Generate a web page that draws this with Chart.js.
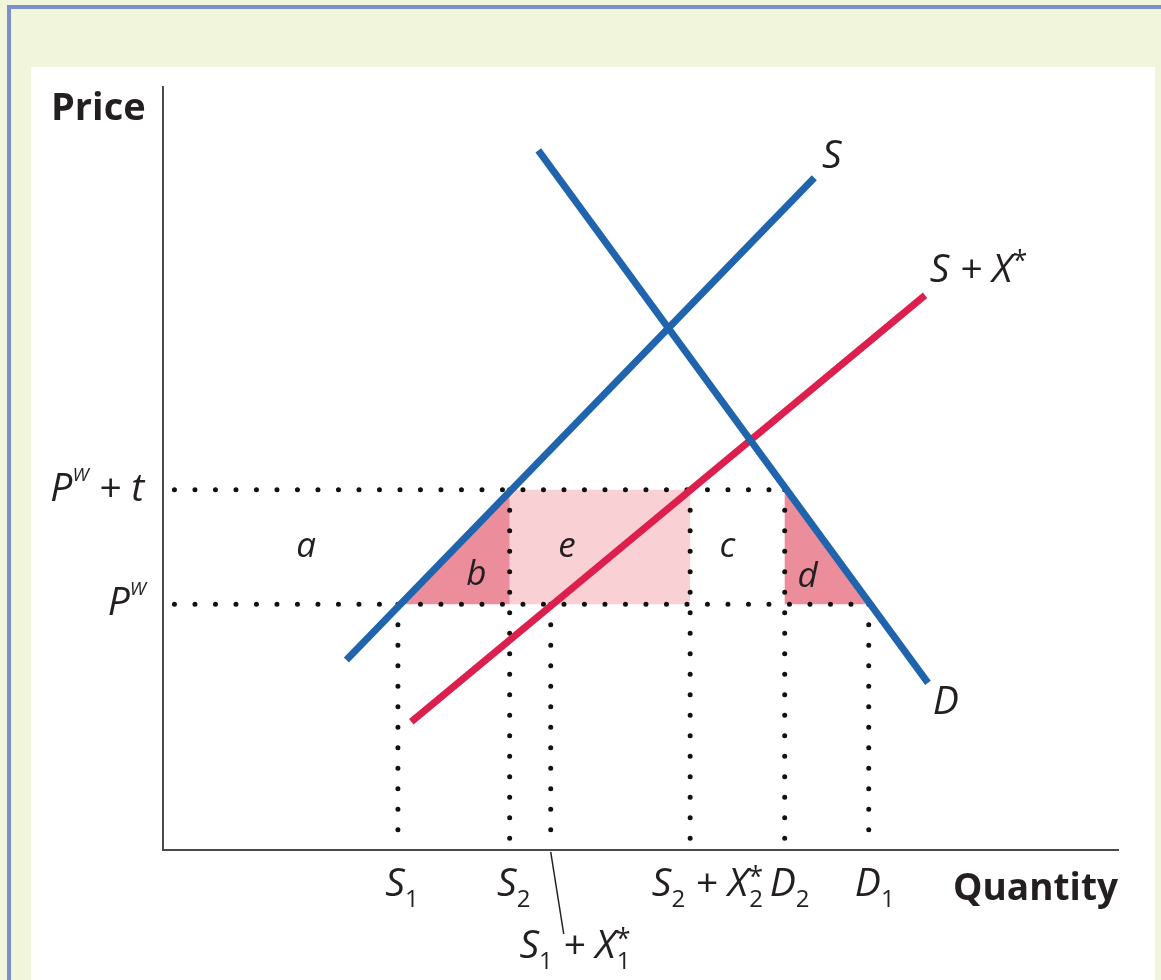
<!DOCTYPE html>
<html>
<head>
<meta charset="utf-8">
<script src="https://cdn.jsdelivr.net/npm/chart.js@4.4.1/dist/chart.umd.min.js"></script>
<style>
html, body { margin: 0; padding: 0; }
body { width: 1161px; height: 980px; background: #f0f5dc; position: relative; overflow: hidden; }
#frame { position: absolute; left: 7px; top: 5px; width: 1170px; height: 1000px; border: 4px solid #7a8fcb; box-sizing: border-box; }
#panel { position: absolute; left: 31px; top: 67px; width: 1124px; height: 930px; background: #fff; }
#chart { position: absolute; left: 0; top: 0; }
</style>
</head>
<body>
<div id="frame"></div>
<div id="panel"></div>
<canvas id="chart" width="1161" height="980"></canvas>
<script>
// 가격 수준: P^W, P^W + t
const priceLevels = [32.2, 47.2];
// 수량: S1, S2, S1+X1*, S2+X2*, D2, D1
const quantityLevels = [24.6, 36.3, 40.6, 55.2, 65.1, 73.9];

// 곡선 끝점
const supplyX = [19.2, 68.2];
const supplyY = [24.9, 88.1];
const demandX = [39.3, 80.1];
const demandY = [91.7, 21.9];
const exportSupplyX = [26.0, 79.8];
const exportSupplyY = [16.8, 72.7];

const BLUE = '#1f64ad';
const RED = '#dc1f4c';
const PINK_DARK = '#ec8d9c';
const PINK_LIGHT = '#f9d1d5';
const FONT = '"Open Sans", "Noto Sans", sans-serif';

const [pw, pwt] = priceLevels;
const [s1, s2, s1x1, s2x2, d2, d1] = quantityLevels;

function pts(xs, ys) {
    return xs.map((x, i) => ({ x: x, y: ys[i] }));
}

function curve(xs, ys, color) {
    return {
        data: pts(xs, ys), showLine: true, pointRadius: 0,
        borderColor: color, borderWidth: 7, fill: false, order: 0
    };
}

function area(poly, color) {
    return {
        data: poly, showLine: true, pointRadius: 0, borderWidth: 0,
        borderColor: 'rgba(0,0,0,0)', backgroundColor: color, fill: 'shape', order: 2
    };
}

function dotted(poly) {
    return {
        data: poly, showLine: true, pointRadius: 0, borderColor: '#111',
        borderWidth: 5, borderDash: [0, 20.5], borderCapStyle: 'round', fill: false, order: 1
    };
}

const datasets = [
    curve(supplyX, supplyY, BLUE),
    curve(demandX, demandY, BLUE),
    curve(exportSupplyX, exportSupplyY, RED),
    area([{ x: s1, y: pw }, { x: s2, y: pwt }, { x: s2, y: pw }, { x: s1, y: pw }], PINK_DARK),
    area([{ x: s2, y: pw }, { x: s2, y: pwt }, { x: s2x2, y: pwt }, { x: s2x2, y: pw }, { x: s2, y: pw }], PINK_LIGHT),
    area([{ x: d2, y: pwt }, { x: d1, y: pw }, { x: d2, y: pw }, { x: d2, y: pwt }], PINK_DARK),
    dotted([{ x: 1.2, y: pwt }, { x: d2, y: pwt }]),
    dotted([{ x: 1.2, y: pw }, { x: d1, y: pw }])
];
// 세로 점선: 각 수량에서 해당 가격까지
[[s1, pw], [s2, pwt], [s1x1, pw], [s2x2, pwt], [d2, pwt], [d1, pw]].forEach(([q, p]) => {
    datasets.push(dotted([{ x: q, y: p }, { x: q, y: 0.6 }]));
});

// 텍스트 조각: n=보통, sub=아래첨자, sup=위첨자, ss=위/아래 겹침
function fontFor(kind) {
    if (kind === 'sub') return '24px ' + FONT;
    if (kind === 'sup') return 'italic 19px ' + FONT;
    if (kind === 'star') return '27px ' + FONT;
    return 'italic 39px ' + FONT;
}

function partWidth(ctx, p) {
    if (p[1] === 'ss') {
        ctx.font = '25px ' + FONT;
        return Math.max(ctx.measureText(p[0][0]).width, ctx.measureText(p[0][1]).width);
    }
    ctx.font = fontFor(p[1]);
    return ctx.measureText(p[0]).width;
}

function drawRich(ctx, parts, x, y, align) {
    const total = parts.reduce((w, p) => w + partWidth(ctx, p), 0);
    let cx = align === 'center' ? x - total / 2 : align === 'right' ? x - total : x;
    ctx.textAlign = 'left';
    ctx.textBaseline = 'alphabetic';
    parts.forEach(p => {
        const w = partWidth(ctx, p);
        if (p[1] === 'ss') {
            ctx.font = '27px ' + FONT;
            ctx.fillText(p[0][0], cx, y - 10);
            ctx.font = '24px ' + FONT;
            ctx.fillText(p[0][1], cx + 1, y + 11);
        } else {
            ctx.font = fontFor(p[1]);
            const dy = p[1] === 'sub' ? 11 : p[1] === 'sup' ? -20 : p[1] === 'star' ? -12 : 0;
            ctx.fillText(p[0], cx, y + dy);
        }
        cx += w;
    });
}

const axisLabels = [
    { q: s1, dx: 4, parts: [['S', 'n'], ['1', 'sub']] },
    { q: s2, dx: 4, parts: [['S', 'n'], ['2', 'sub']] },
    { q: s2x2, dx: 17, parts: [['S', 'n'], ['2', 'sub'], [' + X', 'n'], [['*', '2'], 'ss']] },
    { q: d2, dx: 5, parts: [['D', 'n'], ['2', 'sub']] },
    { q: d1, dx: 6, parts: [['D', 'n'], ['1', 'sub']] }
];

const areaLabels = [
    { t: 'a', x: 15.0, y: 38.4 },
    { t: 'b', x: 32.8, y: 34.7 },
    { t: 'e', x: 42.3, y: 38.4 },
    { t: 'c', x: 59.1, y: 38.4 },
    { t: 'd', x: 67.5, y: 34.5 }
];

const curveLabels = [
    { x: 69.0, y: 89.4, parts: [['S', 'n']] },
    { x: 80.3, y: 74.4, parts: [['S + X', 'n'], ['*', 'star']] },
    { x: 80.6, y: 17.8, parts: [['D', 'n']] }
];

const labelPlugin = {
    id: 'labels',
    afterDatasetsDraw(chart) {
        const ctx = chart.ctx;
        const xs = chart.scales.x, ys = chart.scales.y;
        const area = chart.chartArea;
        ctx.save();
        ctx.fillStyle = '#231f20';

        // 축 제목
        ctx.font = 'bold 38px ' + FONT;
        ctx.textAlign = 'left';
        ctx.textBaseline = 'alphabetic';
        ctx.fillText('Price', 51, area.top + 33);
        ctx.textAlign = 'right';
        ctx.font = 'bold 37px ' + FONT;
        ctx.fillText('Quantity', area.right, area.bottom + 50);

        // 가격 라벨
        drawRich(ctx, [['P', 'n'], ['W', 'sup'], [' + t', 'n']], area.left - 19, ys.getPixelForValue(pwt) + 11, 'right');
        drawRich(ctx, [['P', 'n'], ['W', 'sup']], area.left - 17, ys.getPixelForValue(pw) + 11, 'right');

        // 수량 라벨
        axisLabels.forEach(l => {
            drawRich(ctx, l.parts, xs.getPixelForValue(l.q) + l.dx, area.bottom + 46, 'center');
        });
        const lx = xs.getPixelForValue(s1x1);
        ctx.strokeStyle = '#231f20';
        ctx.lineWidth = 1.5;
        ctx.beginPath();
        ctx.moveTo(lx, area.bottom + 2);
        ctx.lineTo(lx + 13, area.bottom + 84);
        ctx.stroke();
        drawRich(ctx, [['S', 'n'], ['1', 'sub'], [' + X', 'n'], [['*', '1'], 'ss']], lx + 24, area.bottom + 108, 'center');

        // 영역 라벨
        areaLabels.forEach(l => {
            ctx.font = 'italic 35px ' + FONT;
            ctx.textAlign = 'center';
            ctx.fillText(l.t, xs.getPixelForValue(l.x), ys.getPixelForValue(l.y));
        });

        // 곡선 라벨
        curveLabels.forEach(l => {
            drawRich(ctx, l.parts, xs.getPixelForValue(l.x), ys.getPixelForValue(l.y), 'left');
        });
        ctx.restore();
    }
};

const axisOpts = {
    type: 'linear', min: 0, max: 100,
    grid: { display: false, drawTicks: false },
    ticks: { display: false },
    border: { display: true, color: '#4a4a4a', width: 2 }
};

new Chart(document.getElementById('chart').getContext('2d'), {
    type: 'scatter',
    data: { datasets: datasets },
    options: {
        responsive: false,
        animation: false,
        devicePixelRatio: 1,
        layout: { padding: { left: 163, right: 43, top: 87, bottom: 130 } },
        plugins: { legend: { display: false }, tooltip: { enabled: false } },
        scales: { x: axisOpts, y: axisOpts }
    },
    plugins: [labelPlugin]
});
</script>
</body>
</html>
